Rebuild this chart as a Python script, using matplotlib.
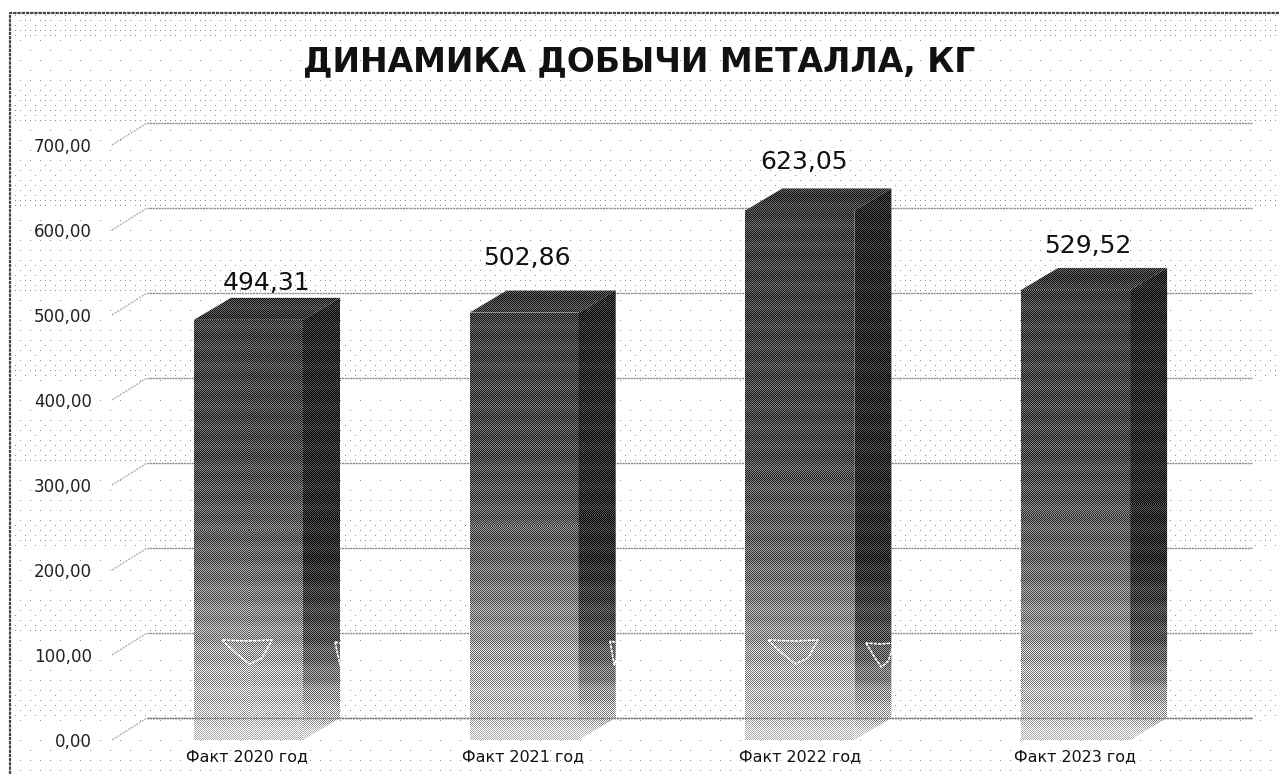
import matplotlib
matplotlib.use("Agg")
import matplotlib.pyplot as plt
import numpy as np
from matplotlib.patches import Polygon

W, H = 1279, 774

categories = ["Факт 2020 год", "Факт 2021 год", "Факт 2022 год", "Факт 2023 год"]
values = [494.31, 502.86, 623.05, 529.52]
value_labels = ["494,31", "502,86", "623,05", "529,52"]
ticks = [0, 100, 200, 300, 400, 500, 600, 700]
tick_labels = ["0,00", "100,00", "200,00", "300,00", "400,00", "500,00", "600,00", "700,00"]
title = "ДИНАМИКА ДОБЫЧИ МЕТАЛЛА, КГ"

# pixel layout of the picture
PX_PER_UNIT = 0.85
FLOOR_PX = 718
FIRST_BAR_PX = 248.5
STEP_PX = 275.7
label_px = [(267, 283), (527, 258), (804, 162), (1088, 246)]
cat_px = [247, 523, 800, 1075]
# white scan leftovers on the bars, (x, y) of the top left corner and the width
wing_px = [(222, 640, 50), (335, 642, 10), (610, 641, 8), (768, 640, 50), (866, 643, 28)]

BAYER = np.array([[0, 8, 2, 10], [12, 4, 14, 6], [3, 11, 1, 9], [15, 7, 13, 5]]) / 16 + 1 / 32


def px_x(v):
    return (v - FIRST_BAR_PX) / STEP_PX


def px_y(v):
    return (FLOOR_PX - v) / PX_PER_UNIT


fig = plt.figure(figsize=(W / 100, H / 100), dpi=100)
ax = fig.add_axes([0, 0, 1, 1])
xlim = (px_x(0), px_x(W))
ylim = (px_y(H), px_y(0))
ax.axis("off")

DX = 1 / STEP_PX          # one pixel in x units
DY = 1 / PX_PER_UNIT      # one pixel in y units
HALF_W = 54.5 * DX
DEPTH_X = 37 * DX
DEPTH_Y = 22 * DY


def checker(y0, y1, x0, x1, rows, grey):
    # fine 1 px checker around a vertical grey ramp, like the scanned halftone
    yy, xx = np.mgrid[y0:y1, x0:x1]
    base = np.interp(yy, rows, grey) + 0.03 * np.sin(yy / 3.2)
    swing = 0.16 + 0.12 * np.clip((base - 0.2) / 0.5, 0, 1)
    return np.clip(base + swing * (2 * ((xx + yy) % 2) - 1), 0, 1)


def face(points, rows, grey, zorder=3):
    pts = np.array(points)
    xp = pts[:, 0] * STEP_PX + FIRST_BAR_PX
    yp = FLOOR_PX - pts[:, 1] * PX_PER_UNIT
    x0, x1 = int(xp.min()), int(np.ceil(xp.max()))
    y0, y1 = int(yp.min()), int(np.ceil(yp.max()))
    img = checker(y0, y1, x0, x1, rows, grey)
    im = ax.imshow(img, cmap="gray", vmin=0, vmax=1, aspect="auto", interpolation="nearest",
                   extent=[px_x(x0), px_x(x1), px_y(y1), px_y(y0)], zorder=zorder)
    poly = Polygon(pts, closed=True, transform=ax.transData, facecolor="none", edgecolor="none")
    ax.add_patch(poly)
    im.set_clip_path(poly)


# halftone paper behind the chart: dots on a 5 px grid, denser above each gridline
yy, xx = np.mgrid[0:H, 0:W]
phase = ((yy - 123) % 85) / 85
tone = (0.08 + 0.75 * phase ** 2) * (1.2 - 0.5 * yy / H)
grid_x = xx // 5
grid_y = yy // 5
dots = (xx % 5 == 0) & (yy % 5 == 0) & (tone > BAYER[grid_y % 4, grid_x % 4])
paper = np.where(dots & (yy > 14) & (xx > 12), 0.55, 1.0)
ax.imshow(paper, cmap="gray", vmin=0, vmax=1, aspect="auto", interpolation="nearest",
          extent=[xlim[0], xlim[1], ylim[0], ylim[1]], zorder=0)

# scan frame
ax.plot([px_x(10), px_x(10), px_x(W)], [px_y(H), px_y(13), px_y(13)],
        color="#444444", lw=1.6, ls=(0, (1.5, 0.4)), zorder=1)

# back wall gridlines and side wall ticks
for t in ticks:
    ax.plot([px_x(147), px_x(1252)], [t, t], color="#8c8c8c", lw=1.0, ls=(0, (1.5, 0.5)), zorder=1)
    ax.plot([px_x(112), px_x(147)], [t - DEPTH_Y, t], color="#b0b0b0", lw=1.0, ls=(0, (1.5, 0.8)), zorder=1)
ax.plot([px_x(147), px_x(1252)], [0, 0], color="#777777", lw=1.0, ls=(0, (1.5, 0.5)), zorder=4)

for t, lab in zip(ticks, tick_labels):
    ax.text(px_x(92), t - DEPTH_Y - 2 * DY, lab, ha="right", va="center",
            fontsize=12, color="#222222", zorder=5)

front_rows = [320, 450, 560, 640, 700, 735]
front_grey = [0.27, 0.30, 0.42, 0.60, 0.78, 0.96]
side_rows = [280, 560, 640, 680, 720, 735]
side_grey = [0.15, 0.18, 0.34, 0.52, 0.80, 1.0]
top_rows = [100, 400]
top_grey = [0.24, 0.24]

for i, v in enumerate(values):
    left, right = i - HALF_W, i + HALF_W
    bottom = -DEPTH_Y
    front_top = v - DEPTH_Y
    face([(left, bottom), (left, front_top), (right, front_top), (right, bottom)],
         front_rows, front_grey, zorder=3)
    face([(right, bottom), (right, front_top), (right + DEPTH_X, v), (right + DEPTH_X, 0)],
         side_rows, side_grey, zorder=3)
    face([(left, front_top), (left + DEPTH_X, v), (right + DEPTH_X, v), (right, front_top)],
         top_rows, top_grey, zorder=3)

    ax.text(px_x(label_px[i][0]), px_y(label_px[i][1]), value_labels[i], ha="center", va="center",
            fontsize=18, color="#111111", zorder=5)
    ax.text(px_x(cat_px[i]), px_y(757), categories[i], ha="center", va="center",
            fontsize=11.4, color="#111111", zorder=5)

for x, y, w in wing_px:
    wx = [x, x + 0.3 * w, x + 0.55 * w, x + 0.8 * w, x + w, x + 0.5 * w, x]
    wy = [y, y + 14, y + 24, y + 18, y, y + 1, y]
    ax.plot([px_x(a) for a in wx], [px_y(b) for b in wy], color="white", lw=1.2,
            ls=(0, (2, 0.6)), zorder=4)

ax.text(px_x(639), px_y(62), title, ha="center", va="center", fontsize=23.8,
        fontweight="bold", color="#111111", zorder=5)

ax.set_xlim(*xlim)
ax.set_ylim(*ylim)

plt.savefig("out.png", dpi=100)
